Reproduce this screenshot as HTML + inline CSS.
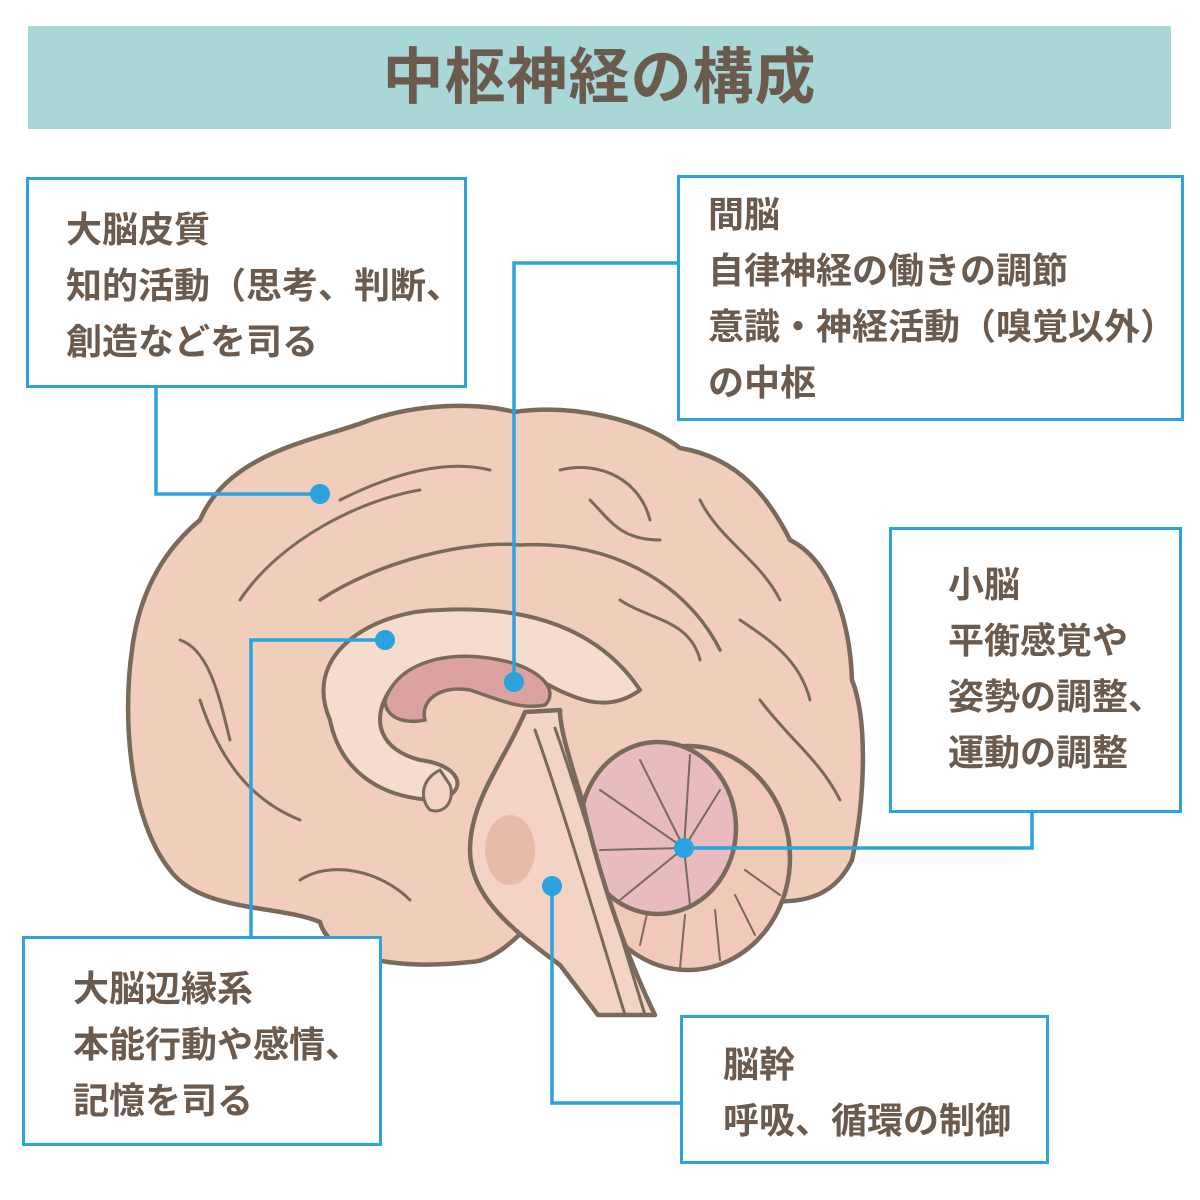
<!DOCTYPE html>
<html><head><meta charset="utf-8"><style>
body{margin:0;width:1200px;height:1200px;background:#fff;position:relative;overflow:hidden;font-family:"Liberation Sans","Noto Sans CJK JP",sans-serif;color:#6b5b4e;font-weight:bold}
.title{position:absolute;left:28px;top:26px;width:1143px;height:103px;background:#a9d6d6;text-align:center;line-height:103px;font-size:61px;letter-spacing:1px}
.box{position:absolute;border:3px solid #2aa3de;background:#fff;box-sizing:border-box;font-size:36px;line-height:56px;white-space:nowrap}
svg{position:absolute;left:0;top:0}
</style></head><body>
<div class="title">中枢神経の構成</div>
<svg width="1200" height="1200" viewBox="0 0 1200 1200">
<g stroke="#7a6a5c" stroke-width="4.5" stroke-linejoin="round" stroke-linecap="round">
<path d="M200,520 C230,450 320,440 370,420 C430,400 490,405 514,412 C570,404 640,418 680,448 C740,458 770,500 790,540 C830,560 850,620 852,680 C868,720 865,800 852,860 C830,905 790,905 740,898 C700,880 650,860 620,820 C580,850 520,962 470,962 C400,970 330,960 320,922 C280,905 200,912 170,870 C130,820 122,720 132,650 C140,585 170,545 200,520 Z" fill="#f1cdbb"/>
<path d="M320,600 C380,560 470,540 520,545 C620,540 690,590 720,650" fill="none" stroke-width="3.5"/>
<path d="M240,600 C280,540 360,500 420,490 M340,500 C400,470 450,460 490,470 M560,470 C600,460 640,480 650,520 M700,500 C720,540 760,560 780,600 M200,700 C220,760 250,800 300,820 M760,700 C790,740 820,760 840,800 M590,500 C610,520 620,540 660,540 M180,640 C210,650 220,700 230,740 M300,880 C330,860 380,870 410,900 M620,600 C650,620 690,620 700,660 M740,620 C770,640 800,660 810,700" fill="none" stroke-width="3"/>
<ellipse cx="688" cy="858" rx="102" ry="112" fill="#f0c9b8"/>
<path d="M640,945 L650,900 M680,968 L685,915 M720,960 L715,910 M755,935 L735,895 M780,895 L745,870" stroke-width="2" fill="none"/>
<ellipse cx="658" cy="828" rx="78" ry="86" fill="#e8bcbf"/>
<path d="M600,790 L684,848 M640,760 L684,848 M690,755 L684,848 M720,790 L684,848 M600,850 L684,848 M620,900 L684,848 M690,905 L684,848" stroke-width="2" fill="none"/>
<path d="M330,720 C300,650 380,610 440,610 C530,605 600,630 640,690 C600,720 560,690 520,670 C470,650 420,660 390,690 C370,720 380,750 420,760 C460,765 470,790 440,800 C380,800 340,770 330,720 Z" fill="#f6dccd" stroke-width="4"/>
<path d="M385,700 C400,660 450,650 500,660 C540,668 560,690 545,705 C520,710 500,700 470,690 C440,685 420,700 425,720 C400,725 385,715 385,700 Z" fill="#dca2a0" stroke-width="3.5"/>
<path d="M525,712 C505,760 470,800 470,850 C470,900 520,935 560,965 L598,1015 L655,1015 C628,960 600,880 582,800 C570,760 560,730 560,710 Z" fill="#f3d3c3"/>
<path d="M535,730 C560,800 590,900 625,1015 M555,728 C580,800 610,900 645,1015" fill="none" stroke-width="3"/>
<ellipse cx="510" cy="850" rx="25" ry="35" fill="#e6bca8" stroke="none"/>
<path d="M440,770 C420,780 420,800 430,810 C445,815 455,800 450,785 Z" fill="#f3d3c3" stroke-width="3"/>
</g>
<g stroke="#2aa3de" stroke-width="3.5" fill="none">
<polyline points="156,387 156,494 320,494"/>
<polyline points="677,263 514,263 514,682"/>
<polyline points="251,936 251,640 385,640"/>
<polyline points="1032,812 1032,848 684,848"/>
<polyline points="680,1103 552,1103 552,886"/>
</g>
<g fill="#2aa3de">
<circle cx="320" cy="494" r="10"/><circle cx="514" cy="682" r="10"/><circle cx="385" cy="640" r="10"/><circle cx="684" cy="848" r="10"/><circle cx="552" cy="886" r="10"/>
</g>
</svg>
<div class="box" style="left:26px;top:177px;width:441px;height:211px;padding:22px 0 0 37px">大脳皮質<br>知的活動（思考、判断、<br>創造などを司る</div>
<div class="box" style="left:677px;top:175px;width:507px;height:246px;padding:9px 0 0 28px">間脳<br>自律神経の働きの調節<br>意識・神経活動（嗅覚以外）<br>の中枢</div>
<div class="box" style="left:889px;top:527px;width:293px;height:286px;padding:27px 0 0 56px">小脳<br>平衡感覚や<br>姿勢の調整、<br>運動の調整</div>
<div class="box" style="left:22px;top:936px;width:360px;height:210px;padding:22px 0 0 48px">大脳辺縁系<br>本能行動や感情、<br>記憶を司る</div>
<div class="box" style="left:680px;top:1015px;width:369px;height:149px;padding:19px 0 0 40px">脳幹<br>呼吸、循環の制御</div>
</body></html>
